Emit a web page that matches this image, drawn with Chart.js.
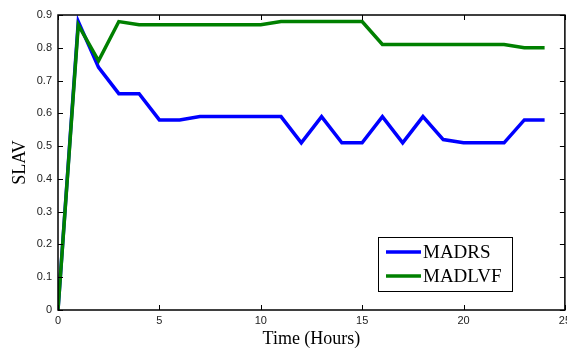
<html>
	<head>
		<script src="https://cdn.jsdelivr.net/npm/chart.js"></script>
		<style>
			body { margin: 0; overflow: hidden; background: #fff; }
		</style>
	</head>

	<body>
		<div style="width: 575px; height: 350px; position: relative">
			<canvas id="myChart"></canvas>
		</div>

		<script>
			const hours = [0, 1, 2, 3, 4, 5, 6, 7, 8, 9, 10, 11, 12, 13, 14, 15, 16, 17, 18, 19, 20, 21, 22, 23, 24];
			const madrs = [0, 0.88, 0.74, 0.66, 0.66, 0.58, 0.58, 0.59, 0.59, 0.59, 0.59, 0.59, 0.51, 0.59, 0.51, 0.51, 0.59, 0.51, 0.59, 0.52, 0.51, 0.51, 0.51, 0.58, 0.58];
			const madlvf = [0, 0.87, 0.76, 0.88, 0.87, 0.87, 0.87, 0.87, 0.87, 0.87, 0.87, 0.88, 0.88, 0.88, 0.88, 0.88, 0.81, 0.81, 0.81, 0.81, 0.81, 0.81, 0.81, 0.80, 0.80];
			const xTicks = [0, 5, 10, 15, 20, 25];
			const yTicks = [0, 0.1, 0.2, 0.3, 0.4, 0.5, 0.6, 0.7, 0.8, 0.9];

			const toPoints = (ys) => hours.map((h, i) => ({ x: h, y: ys[i] }));

			// frame with inward ticks, plus the boxed legend inside the plot
			const framePlugin = {
				id: 'frame',
				afterDraw(chart) {
					const ctx = chart.ctx;
					const a = chart.chartArea;
					const xs = chart.scales.x, ys = chart.scales.y;
					ctx.save();
					ctx.strokeStyle = '#000';
					ctx.lineWidth = 1.5;
					ctx.strokeRect(a.left, a.top, a.right - a.left, a.bottom - a.top);
					ctx.lineWidth = 1;
					ctx.beginPath();
					xTicks.forEach(v => {
						const px = Math.round(xs.getPixelForValue(v)) + 0.5;
						ctx.moveTo(px, a.bottom); ctx.lineTo(px, a.bottom - 5);
						ctx.moveTo(px, a.top); ctx.lineTo(px, a.top + 5);
					});
					yTicks.forEach(v => {
						const py = Math.round(ys.getPixelForValue(v)) + 0.5;
						ctx.moveTo(a.left, py); ctx.lineTo(a.left + 5, py);
						ctx.moveTo(a.right, py); ctx.lineTo(a.right - 5, py);
					});
					ctx.stroke();

					// legend
					const bx = 378, by = 237, bw = 134, bh = 54;
					ctx.fillStyle = '#fff';
					ctx.fillRect(bx, by, bw, bh);
					ctx.lineWidth = 1;
					ctx.strokeRect(bx + 0.5, by + 0.5, bw, bh);
					ctx.font = '19px "Liberation Serif", "Times New Roman", serif';
					ctx.textBaseline = 'middle';
					chart.data.datasets.forEach((ds, i) => {
						const y = by + 15 + i * 24;
						ctx.strokeStyle = ds.borderColor;
						ctx.lineWidth = 3.5;
						ctx.beginPath();
						ctx.moveTo(bx + 8, y); ctx.lineTo(bx + 43, y);
						ctx.stroke();
						ctx.fillStyle = '#000';
						ctx.fillText(ds.label, bx + 45, y + 1);
					});
					ctx.restore();
				}
			};

			const data = {
				datasets: [
					{
						label: 'MADRS',
						borderColor: 'rgb(0, 0, 255)',
						backgroundColor: 'rgb(0, 0, 255)',
						borderWidth: 3.5,
						pointRadius: 0,
						tension: 0,
						order: 1,
						data: toPoints(madrs),
					},
					{
						label: 'MADLVF',
						borderColor: 'rgb(0, 128, 0)',
						backgroundColor: 'rgb(0, 128, 0)',
						borderWidth: 3.5,
						pointRadius: 0,
						tension: 0,
						order: 0,
						data: toPoints(madlvf),
					},
				],
			};

			const tickFont = { family: '"Liberation Sans", Arial, sans-serif', size: 11 };
			const titleFont = { family: '"Liberation Serif", "Times New Roman", serif', size: 18, lineHeight: 1 };

			const options = {
				animation: false,
				responsive: true,
				maintainAspectRatio: false,
				layout: {
					padding: { top: 15, right: 10, left: 0, bottom: 0 }
				},
				scales: {
					x: {
						type: 'linear',
						min: 0,
						max: 25,
						grid: { display: false, drawTicks: false },
						border: { display: false },
						afterFit(scale) { scale.height = 40; },
						afterBuildTicks(scale) { scale.ticks = xTicks.map(v => ({ value: v })); },
						ticks: {
							font: tickFont,
							color: '#222',
							padding: 4,
							maxRotation: 0,
						},
						title: {
							display: true,
							text: 'Time (Hours)',
							font: titleFont,
							color: '#000',
							padding: { top: 0, bottom: 2 },
						},
					},
					y: {
						min: 0,
						max: 0.9,
						grid: { display: false, drawTicks: false },
						border: { display: false },
						afterFit(scale) { scale.width = 58; },
						afterBuildTicks(scale) { scale.ticks = yTicks.map(v => ({ value: v })); },
						ticks: {
							font: tickFont,
							color: '#222',
							padding: 6,
							callback: (v) => String(+v.toFixed(1)),
						},
						title: {
							display: true,
							text: 'SLAV',
							font: titleFont,
							color: '#000',
							padding: { top: 11, bottom: 0 },
						},
					},
				},
				plugins: {
					legend: { display: false },
					tooltip: { enabled: false },
				},
			};

			const config = {
				type: 'line',
				data,
				options,
				plugins: [framePlugin],
			};
			var myChart = new Chart(document.getElementById('myChart'), config);
		</script>
	</body>
</html>
